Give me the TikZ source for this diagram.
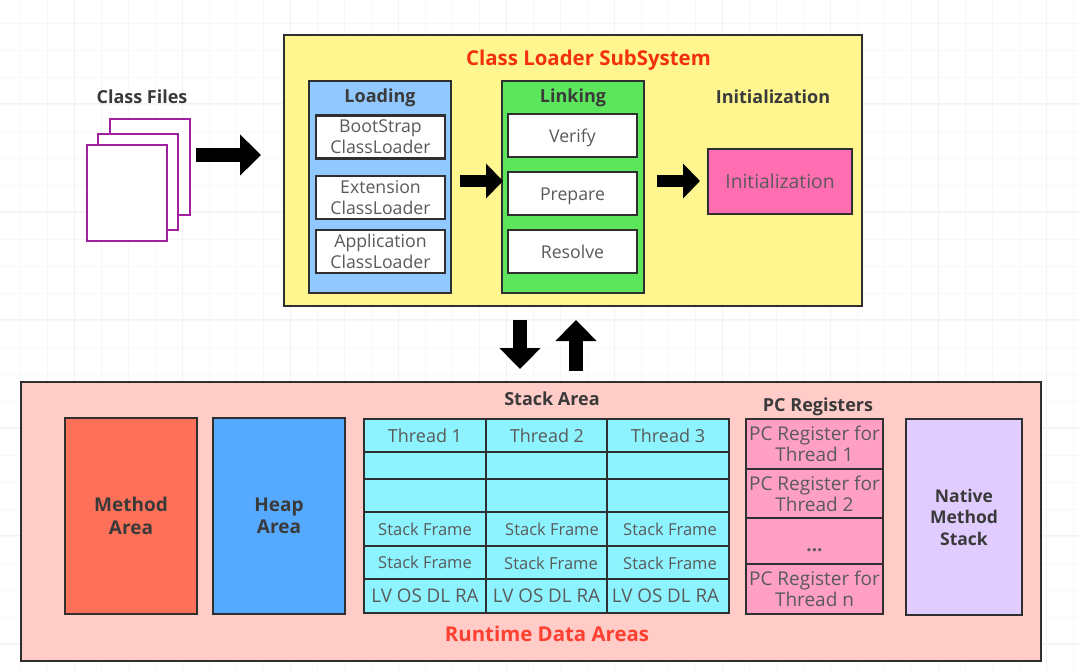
\documentclass[tikz,border=0pt]{standalone}
\usepackage{fontspec}
\setmainfont{Open Sans}
\usepackage{tikz}
\usetikzlibrary{arrows.meta}
\definecolor{outline}{HTML}{2F2F2F}
\definecolor{textgrey}{HTML}{5A5A5A}
\definecolor{headgrey}{HTML}{3A3A3A}
\definecolor{loaderfill}{HTML}{FFF68F}
\definecolor{loadingfill}{HTML}{90C8FF}
\definecolor{linkingfill}{HTML}{5CE65C}
\definecolor{initfill}{HTML}{FF6EB0}
\definecolor{runtimefill}{HTML}{FFCCC8}
\definecolor{methodfill}{HTML}{FF7058}
\definecolor{heapfill}{HTML}{55AAFF}
\definecolor{threadfill}{HTML}{8CF3FF}
\definecolor{pcfill}{HTML}{FF9FC4}
\definecolor{nativefill}{HTML}{E0CCFF}
\definecolor{filepurple}{HTML}{A020A0}
\definecolor{titlered}{HTML}{F2300F}
\definecolor{areared}{HTML}{FF4030}
\tikzset{
  box/.style={draw=outline,line width=2.6pt,inner sep=0pt,align=center,text=textgrey,font=\fontsize{17.7}{21}\selectfont},
  boldbox/.style={box,text=headgrey,font=\fontsize{19}{22.5}\selectfont\bfseries},
  filebox/.style={draw=filepurple,line width=2.8pt,fill=white,inner sep=0pt,minimum width=80,minimum height=96},
  head/.style={text=headgrey,inner sep=0pt,font=\fontsize{18}{20}\selectfont\bfseries},
  redhead/.style={inner sep=0pt,font=\fontsize{20.4}{23}\selectfont\bfseries},
  oneline/.style={text height=14,text depth=1},
  celltext/.style={oneline,text=textgrey,inner sep=0pt,font=\fontsize{18}{21}\selectfont},
  frametext/.style={text=textgrey,inner sep=0pt,font=\fontsize{16.5}{21}\selectfont},
  fatarrow/.style={line width=14pt,-{Triangle[length=21pt,width=40pt,sep=0pt]},black},
  midarrow/.style={line width=12pt,-{Triangle[length=17pt,width=34pt,sep=0pt]},black},
  gridline/.style={draw=black!5,line width=0.8pt}
}
\def\whitebox{\node[box,fill=white,minimum width=129,minimum height=43]}
\def\threadcell{\node[box,fill=threadfill,minimum width=122]}
\def\pccell{\node[box,fill=pcfill,minimum width=137,font=\fontsize{19}{21}\selectfont]}
\begin{document}
\begin{tikzpicture}[x=1pt,y=-1pt]
\useasboundingbox[fill=white] (0,0) rectangle (1081,670);
% background paper
\foreach \gx in {20,47,...,1081} \draw[gridline,black!3] (\gx,0) -- (\gx,670);
\foreach \gy in {23,50,...,670} \draw[gridline,black!3] (0,\gy) -- (1081,\gy);
\foreach \gx in {74,182,...,1081} \draw[gridline] (\gx,0) -- (\gx,670);
\foreach \gy in {103,211,...,670} \draw[gridline] (0,\gy) -- (1081,\gy);
% class files
\node[head,oneline] (classfiles) at (142,97) {Class Files};
\node[filebox] (fileback) at (150,167) {};
\node[filebox] (filemid) at (138,182) {};
\node[filebox] (filefront) at (127,193) {};
% loader subsystem
\node[box,fill=loaderfill,minimum width=578,minimum height=271] (loader) at (573,170.5) {};
\node[redhead,text=titlered] (loadertitle) at (588.5,60.5) {Class Loader SubSystem};
\node[box,fill=loadingfill,minimum width=142,minimum height=212] (loading) at (380,187) {};
\node[head,oneline] (loadingtitle) at (380,96) {Loading};
\whitebox (bootstrap) at (380.5,137) {BootStrap\\ClassLoader};
\whitebox (extension) at (380.5,197.5) {Extension\\ClassLoader};
\whitebox (application) at (380.5,251.5) {Application\\ClassLoader};
\node[box,fill=linkingfill,minimum width=142,minimum height=212] (linking) at (573,187) {};
\node[head,oneline] (linkingtitle) at (573,96) {Linking};
\whitebox[oneline] (verify) at (572.5,135.5) {Verify};
\whitebox[oneline] (prepare) at (572.5,193.5) {Prepare};
\whitebox[oneline] (resolve) at (572.5,251.5) {Resolve};
\node[head] (inittitle) at (773,97) {Initialization};
\node[box,fill=initfill,minimum width=144,minimum height=65,font=\fontsize{19.3}{23}\selectfont] (init) at (780,181.5) {Initialization};
% runtime areas
\node[box,fill=runtimefill,minimum width=1020,minimum height=279] (runtime) at (531,521.5) {};
\node[boldbox,fill=methodfill,minimum width=132,minimum height=196] (method) at (131,516) {Method\\Area};
\node[boldbox,fill=heapfill,minimum width=132,minimum height=196] (heap) at (279,516) {Heap\\Area};
\node[head] (stacktitle) at (552,399) {Stack Area};
\foreach \cx/\cname/\lvx in {425/a/425,547/b/546.5,668/c/665.5} {
  \threadcell[minimum height=33] (\cname top) at (\cx,435.5) {};
  \threadcell[minimum height=27] (\cname empty) at (\cx,465.5) {};
  \threadcell[minimum height=33] (\cname blank) at (\cx,495.5) {};
  \threadcell[minimum height=34] (\cname frameA) at (\cx,529) {};
  \threadcell[minimum height=33] (\cname frameB) at (\cx,562.5) {};
  \threadcell[minimum height=34] (\cname vars) at (\cx,596) {};
  \node[celltext,font=\fontsize{18.8}{21}\selectfont] (\cname lv) at (\lvx,596) {LV OS DL RA};
}
\node[celltext] (threadone) at (atop) {Thread 1};
\node[celltext] (threadtwo) at (btop) {Thread 2};
\node[celltext] (threadthree) at (ctop) {Thread 3};
\node[frametext] (frameAa) at (aframeA) {Stack Frame};
\node[frametext] (frameAb) at (552,529) {Stack Frame};
\node[frametext] (frameAc) at (670,529) {Stack Frame};
\node[frametext] (frameBa) at (aframeB) {Stack Frame};
\node[frametext] (frameBb) at (551,563) {Stack Frame};
\node[frametext] (frameBc) at (670,563) {Stack Frame};
\node[head,oneline] (pctitle) at (818,405) {PC Registers};
\pccell[minimum height=50] (pcone) at (814.5,444) {PC Register for\\Thread 1};
\pccell[minimum height=49] (pctwo) at (814.5,493.5) {PC Register for\\Thread 2};
\pccell[minimum height=46] (pcdots) at (814.5,541) {\\\textbf{...}};
\pccell[minimum height=50] (pcn) at (814.5,589) {PC Register for\\Thread n};
\node[boldbox,fill=nativefill,minimum width=116,minimum height=196,font=\fontsize{17.5}{21.5}\selectfont\bfseries] (native) at (964,517) {Native\\Method\\Stack};
\node[redhead,text=areared] (runtimetitle) at (547,634) {Runtime Data Areas};
% arrows
\coordinate (filesout) at (196,155);
\coordinate (loaderin) at (261,155);
\coordinate (loadingout) at (460,181);
\coordinate (linkingin) at (503,181);
\coordinate (linkingout) at (657,181);
\coordinate (initin) at (700,181);
\coordinate (downtop) at (520,320);
\coordinate (downend) at (520,369);
\coordinate (uptop) at (576,371);
\coordinate (upend) at (576,320);
\draw[fatarrow] (filesout) -- (loaderin);
\draw[midarrow] (loadingout) -- (linkingin);
\draw[midarrow] (linkingout) -- (initin);
\draw[fatarrow] (downtop) -- (downend);
\draw[fatarrow] (uptop) -- (upend);
\end{tikzpicture}
\end{document}
